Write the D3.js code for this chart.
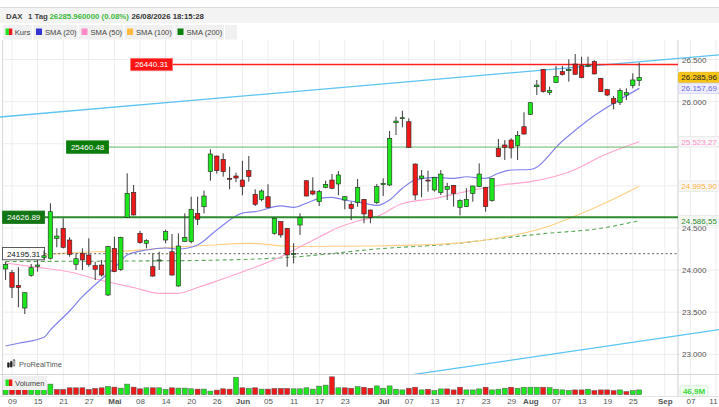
<!DOCTYPE html>
<html>
<head>
<meta charset="utf-8">
<script src="https://cdn.jsdelivr.net/npm/d3@7"></script>
<style>
  html, body { margin: 0; padding: 0; background: #fff; }
  svg { display: block; font-family: "Liberation Sans", Arial, sans-serif; }
</style>
</head>
<body>
<div id="chart"></div>
<script>
// trading days per month (2026), the last 12 are future days on the axis
const aprDays = [8, 9, 10, 13, 14, 15, 16, 17, 20, 21, 22, 23, 24, 27, 28, 29, 30];
const mayDays = [4, 5, 6, 7, 8, 11, 12, 13, 14, 15, 18, 19, 20, 21, 22, 25, 26, 27, 28, 29];
const junDays = [1, 2, 3, 4, 5, 8, 9, 10, 11, 12, 15, 16, 17, 18, 19, 22, 23, 24, 25, 26, 29, 30];
const julDays = [1, 2, 3, 6, 7, 8, 9, 10, 13, 14, 15, 16, 17, 20, 21, 22, 23, 24, 27, 28, 29, 30, 31];
const augDays = [3, 4, 5, 6, 7, 10, 11, 12, 13, 14, 17, 18, 19, 20, 21, 24, 25, 26, 27, 28, 31];
const sepDays = [1, 2, 3, 4, 7, 8, 9, 10, 11];

const open = [24013, 23969, 23819, 23550, 23938, 24045, 24150, 24140, 24377, 24496,
  24357, 24068, 24199, 24179, 24052, 24060, 23704, 24258, 24009, 24626,
  24923, 24436, 24318, 24040, 24115, 24357, 24218, 23811, 24341, 24337,
  24674, 24752, 25168, 25354, 25315, 25090, 25117, 25069, 25180, 24900,
  24840, 24871, 24436, 24575, 24496, 24190, 24535, 25061, 24939, 24812,
  24983, 25069, 25022, 24832, 24781, 24805, 24840, 24713, 24800, 25014,
  25010, 25749, 25797, 25761, 25259, 25089, 25069, 24951, 24919, 24959,
  25006, 24745, 24753, 24911, 24990, 24983, 24824, 25445, 25485, 25544,
  25477, 25702, 25849, 26177, 26383, 26106, 26225, 26356, 26367, 26446,
  26426, 26420, 26474, 26277, 26142, 26039, 25992, 26078, 26193, 26249];
const high = [24099, 24001, 24033, 23735, 24072, 24120, 24230, 24793, 24496, 24615,
  24389, 24199, 24258, 24377, 24099, 24120, 24285, 24396, 24395, 25149,
  25010, 24464, 24365, 24199, 24218, 24480, 24428, 24436, 24674, 24871,
  24871, 24943, 25434, 25360, 25386, 25227, 25156, 25298, 25354, 24959,
  24959, 25018, 24620, 24580, 24500, 24318, 24674, 25065, 25101, 24951,
  25061, 25140, 25176, 24880, 24812, 25081, 24845, 24718, 25022, 25089,
  25651, 25821, 25892, 25802, 25265, 25188, 25180, 25105, 25188, 25037,
  25010, 24840, 24971, 25002, 25267, 24988, 25093, 25556, 25544, 25564,
  25651, 25873, 25992, 26257, 26388, 26177, 26423, 26423, 26502, 26565,
  26533, 26533, 26490, 26282, 26150, 26066, 26158, 26158, 26336, 26462];
const low = [23882, 23668, 23558, 23478, 23921, 23981, 24130, 24125, 24270, 24258,
  24159, 24001, 24001, 24040, 23882, 23921, 23692, 23975, 23990, 24620,
  24648, 24313, 24258, 23921, 24001, 24318, 23935, 23803, 24337, 24318,
  24535, 24674, 25061, 25145, 25109, 24959, 25045, 24888, 25050, 24761,
  24817, 24740, 24420, 24384, 24040, 24080, 24417, 24875, 24888, 24761,
  24971, 24959, 24888, 24721, 24594, 24753, 24555, 24555, 24784, 24879,
  24998, 25603, 25695, 25450, 24832, 24864, 24931, 24931, 24891, 24832,
  24753, 24650, 24748, 24812, 24985, 24693, 24812, 25340, 25307, 25327,
  25307, 25610, 25841, 26078, 26106, 26078, 26220, 26310, 26237, 26320,
  26277, 26410, 26325, 26115, 26066, 25908, 25960, 26019, 26158, 26186];
const close = [24068, 23795, 23791, 23731, 24028, 24060, 24170, 24693, 24404, 24270,
  24187, 24135, 24120, 24068, 24009, 23941, 24278, 23981, 24389, 24911,
  24654, 24325, 24349, 23929, 24120, 24456, 23941, 24286, 24389, 24721,
  24603, 24879, 25378, 25180, 25168, 25085, 25093, 24990, 25109, 24781,
  24939, 24745, 24615, 24417, 24179, 24195, 24622, 24879, 24903, 24931,
  25018, 24971, 25129, 24871, 24729, 24983, 24666, 24626, 24990, 25030,
  25564, 25769, 25809, 25457, 24891, 25117, 25057, 25101, 25140, 24990,
  24911, 24824, 24840, 24998, 25140, 24753, 25089, 25346, 25457, 25449,
  25600, 25615, 25987, 26197, 26118, 26130, 26300, 26320, 26383, 26324,
  26284, 26432, 26328, 26118, 26078, 25980, 26130, 26106, 26257, 26285.96];
// volume in millions
const volume = [52, 52, 52, 52, 52, 52, 52, 105, 52, 52,
  68, 68, 68, 52, 62, 68, 82, 75, 65, 105,
  75, 58, 68, 68, 68, 52, 68, 65, 65, 58,
  55, 55, 35, 45, 58, 55, 172, 68, 62, 68,
  55, 55, 62, 62, 62, 58, 58, 68, 55, 85,
  95, 178, 68, 68, 64, 80, 74, 64, 87, 64,
  87, 54, 47, 64, 74, 47, 54, 40, 57, 57,
  47, 74, 47, 47, 57, 74, 47, 54, 64, 74,
  64, 74, 74, 74, 74, 70, 54, 47, 40, 47,
  47, 54, 40, 47, 47, 40, 47, 30, 40, 46.9];

// moving averages at a few days each
const sma20 = [["04-08", 23099], ["04-10", 23131], ["04-16", 23202], ["04-17", 23289], ["04-22", 23514],
  ["04-24", 23684], ["04-29", 23894], ["05-04", 24025], ["05-06", 24179], ["05-11", 24238],
  ["05-14", 24262], ["05-18", 24250], ["05-21", 24298], ["05-26", 24476], ["06-01", 24677],
  ["06-03", 24693], ["06-09", 24761], ["06-11", 24745], ["06-15", 24793], ["06-17", 24852],
  ["06-19", 24864], ["06-23", 24832], ["06-26", 24793], ["06-30", 24767], ["07-02", 24832],
  ["07-06", 24971], ["07-08", 25069], ["07-13", 25101], ["07-16", 25089], ["07-20", 25108],
  ["07-23", 25089], ["07-27", 25149], ["07-29", 25188], ["08-03", 25194], ["08-10", 25532],
  ["08-17", 25835], ["08-20", 25980], ["08-26", 26157.69]];
const sma50 = [["04-08", 24084], ["04-15", 24033], ["04-22", 23977], ["04-29", 23876], ["05-07", 23793],
  ["05-13", 23724], ["05-18", 23724], ["05-21", 23793], ["05-26", 23870], ["06-02", 24007],
  ["06-09", 24159], ["06-12", 24277], ["06-17", 24393], ["06-22", 24505], ["06-25", 24583],
  ["06-30", 24636], ["07-06", 24790], ["07-13", 24850], ["07-20", 24933], ["07-28", 25016],
  ["08-03", 25049], ["08-12", 25194], ["08-18", 25348], ["08-26", 25523.27]];
const sma100 = [["04-16", 24179], ["04-22", 24203], ["04-29", 24220], ["05-07", 24232], ["05-18", 24277],
  ["05-21", 24286], ["06-02", 24318], ["06-11", 24280], ["06-30", 24286], ["07-09", 24298],
  ["07-17", 24322], ["07-27", 24381], ["08-05", 24499], ["08-12", 24642], ["08-18", 24773],
  ["08-26", 24995.90]];
const sma200 = [["04-08", 24102], ["05-07", 24108], ["05-21", 24114], ["06-11", 24155], ["06-30", 24250],
  ["07-17", 24320], ["07-27", 24375], ["08-05", 24432], ["08-18", 24496], ["08-26", 24586.55]];

// drawn objects
const trendUpper = [["04-08", 25823], ["09-11", 26552]];
const trendLower = [["07-08", 22763], ["09-11", 23287]];
const levelValues = [26440.31, 25460.48, 24626.89, 24195.31];
const levelAnchors = ["05-07", "04-22", "04-08", "04-08"];

const priceTicks = [23000, 23500, 24000, 24500, 25000, 25500, 26000, 26500];
const tickDates = ["04-09", "04-15", "04-21", "04-27", "05-04", "05-08", "05-14", "05-20", "05-26",
  "06-01", "06-05", "06-11", "06-17", "06-23", "07-01", "07-07", "07-13", "07-17", "07-23", "07-29",
  "08-03", "08-07", "08-13", "08-19", "08-25", "09-01", "09-07", "09-11"];
const tickLabels = ["09", "15", "21", "27", "Mai", "08", "14", "20", "26",
  "Jun", "05", "11", "17", "23", "Jul", "07", "13", "17", "23", "29",
  "Aug", "07", "13", "19", "25", "Sep", "07", "11"];
const monthLabels = ["Mai", "Jun", "Jul", "Aug", "Sep"];

const pad = n => String(n).padStart(2, "0");
const days = [["04", aprDays], ["05", mayDays], ["06", junDays], ["07", julDays], ["08", augDays], ["09", sepDays]]
  .flatMap(([m, list]) => list.map(d => `${m}-${pad(d)}`));
const dayIndex = new Map(days.map((d, i) => [d, i]));
const lastIndex = dayIndex.get("09-11");

const W = 719, H = 407;
const plotTop = 40, plotBottom = 374, axisX = 678;

const x = d3.scaleLinear().domain([0, lastIndex]).range([5.6, 5.6 + lastIndex * 6.4]);
const y = d3.scaleLinear().domain([23000, 26500]).range([354.3, 59.5]);
const yVol = d3.scaleLinear().domain([0, 180]).range([394.6, 376.6]);

const de = d3.formatLocale({decimal: ",", thousands: ".", grouping: [3], currency: ["", "€"]});
const fmtTick = de.format(",d");
const fmtVal = de.format(",.2f");

const upColor = "#1ee61e", downColor = "#ee1a1a";
const last = close.length - 1;

const tags = [
  {value: close[last], fill: "#f6c417", stroke: "#e4b100", text: "#222"},
  {value: sma20[sma20.length - 1][1], fill: "#ededfb", stroke: "#cfcff0", text: "#6c6ce2"},
  {value: sma50[sma50.length - 1][1], fill: "#f8f8f8", stroke: "#e2e2e2", text: "#ff8ec8"},
  {value: sma100[sma100.length - 1][1], fill: "#f8f8f8", stroke: "#e2e2e2", text: "#ffb33e"},
  {value: sma200[sma200.length - 1][1], fill: "#f5f8f5", stroke: "#dde6dd", text: "#2e8b2e"}
];

const svg = d3.select("#chart").append("svg")
  .attr("width", W).attr("height", H)
  .attr("viewBox", `0 0 ${W} ${H}`);

svg.append("defs").append("clipPath").attr("id", "plot-clip")
  .append("rect").attr("x", 0).attr("y", plotTop).attr("width", W).attr("height", plotBottom - plotTop);

// header
svg.append("rect").attr("x", 0).attr("y", 7).attr("width", W).attr("height", 16).attr("fill", "#f3f3f3");
svg.append("line").attr("x1", 0).attr("x2", W).attr("y1", 7.5).attr("y2", 7.5).attr("stroke", "#dcdcdc");
const header = svg.append("g").attr("font-size", 7.8).attr("font-weight", "bold");
header.append("text").attr("x", 6).attr("y", 19.3).attr("fill", "#444").text("DAX");
header.append("text").attr("x", 28).attr("y", 19.3).attr("fill", "#444").text("1 Tag");
header.append("text").attr("x", 49.5).attr("y", 19.3).attr("fill", "#3cb83c").text("26285.960000 (0.08%)");
header.append("text").attr("x", 131.5).attr("y", 19.3).attr("fill", "#333").text("26/08/2026 18:15:28");

// legend row
const legendItems = [
  {label: "Kurs", x: 3, w: 29, color: null},
  {label: "SMA (20)", x: 33.5, w: 44, color: "#3535d0"},
  {label: "SMA (50)", x: 79, w: 44, color: "#ff8ac6"},
  {label: "SMA (100)", x: 124.5, w: 49, color: "#ffbb40"},
  {label: "SMA (200)", x: 175, w: 49, color: "#0a800a"}
];
svg.append("rect").attr("x", 225).attr("y", 25).attr("width", 12).attr("height", 14.5).attr("fill", "#f0f0f0");
const legend = svg.append("g").selectAll("g").data(legendItems).join("g")
  .attr("transform", d => `translate(${d.x},25)`);
legend.append("rect").attr("width", d => d.w).attr("height", 14.5).attr("fill", "#f0f0f0");
legend.filter(d => d.color).append("rect")
  .attr("x", 2.5).attr("y", 3.5).attr("width", 6).attr("height", 6.5).attr("fill", d => d.color);
legend.filter(d => !d.color).call(g => {
  g.append("rect").attr("x", 2.5).attr("y", 3.5).attr("width", 3.4).attr("height", 6.5).attr("fill", upColor);
  g.append("rect").attr("x", 5.9).attr("y", 3.5).attr("width", 3.4).attr("height", 6.5).attr("fill", downColor);
});
legend.append("text").attr("x", d => d.color ? 11.5 : 11.8).attr("y", 10.2)
  .attr("font-size", 7.6).attr("fill", "#444").text(d => d.label);

// grid
const grid = svg.append("g");
grid.selectAll("line.v").data(tickDates).join("line")
  .attr("x1", d => x(dayIndex.get(d))).attr("x2", d => x(dayIndex.get(d)))
  .attr("y1", plotTop).attr("y2", 397).attr("stroke", "#ededed");
grid.selectAll("line.h").data(priceTicks).join("line")
  .attr("x1", 2).attr("x2", W).attr("y1", d => y(d)).attr("y2", d => y(d)).attr("stroke", "#ededed");
grid.append("line").attr("x1", 2.5).attr("x2", 2.5).attr("y1", plotTop).attr("y2", 397).attr("stroke", "#dadada");
grid.append("line").attr("x1", axisX).attr("x2", axisX).attr("y1", plotTop).attr("y2", 397).attr("stroke", "#cfcfcf");
grid.append("line").attr("x1", 0).attr("x2", W).attr("y1", plotBottom + 0.5).attr("y2", plotBottom + 0.5).attr("stroke", "#d6d6d6");
grid.append("line").attr("x1", 0).attr("x2", W).attr("y1", 396.5).attr("y2", 396.5).attr("stroke", "#e4e4e4");

// price axis: labels hidden behind a value tag are left out, as in the platform
const hiddenTick = v => tags.some(t => Math.abs(y(t.value) - y(v)) < 6);
svg.append("g").attr("transform", `translate(${axisX},0)`)
  .call(d3.axisRight(y).tickValues(priceTicks.filter(v => !hiddenTick(v)))
    .tickFormat(fmtTick).tickSize(0).tickPadding(4))
  .call(g => g.select(".domain").remove())
  .call(g => g.selectAll("text").attr("font-size", 8).attr("fill", "#555")
    .attr("font-family", "Liberation Sans, Arial, sans-serif"));

// date axis
svg.append("g").attr("transform", "translate(0,396)")
  .call(d3.axisBottom(x).tickValues(tickDates.map(d => dayIndex.get(d)))
    .tickFormat((d, i) => tickLabels[i]).tickSize(0).tickPadding(2.5))
  .call(g => g.select(".domain").remove())
  .call(g => g.selectAll("text").attr("font-size", 8).attr("fill", "#555")
    .attr("font-family", "Liberation Sans, Arial, sans-serif")
    .attr("font-weight", (d, i) => monthLabels.includes(tickLabels[i]) ? "bold" : null)
    .attr("dx", (d, i) => i === tickLabels.length - 1 ? -3 : null));

const plot = svg.append("g").attr("clip-path", "url(#plot-clip)");

// trendlines, stretched over the whole width
function stretched(points) {
  const [a, b] = points.map(([d, v]) => [x(dayIndex.get(d)), y(v)]);
  const slope = (b[1] - a[1]) / (b[0] - a[0]);
  return [[0, a[1] - slope * a[0]], [W, a[1] + slope * (W - a[0])]];
}
[trendUpper, trendLower].forEach(t => {
  plot.append("path").attr("d", d3.line()(stretched(t)))
    .attr("fill", "none").attr("stroke", "#5cc4f2").attr("stroke-width", 1.3);
});

// moving averages
const smaLine = d3.line()
  .x(d => x(dayIndex.get(d[0])))
  .y(d => y(d[1]))
  .curve(d3.curveMonotoneX);
plot.append("path").datum(sma200).attr("d", smaLine).attr("fill", "none")
  .attr("stroke", "#58a858").attr("stroke-width", 1.1).attr("stroke-dasharray", "4,3");
plot.append("path").datum(sma100).attr("d", smaLine).attr("fill", "none")
  .attr("stroke", "#ffcf85").attr("stroke-width", 1.2);
plot.append("path").datum(sma50).attr("d", smaLine).attr("fill", "none")
  .attr("stroke", "#ffa6cf").attr("stroke-width", 1.2);
plot.append("path").datum(sma20).attr("d", smaLine).attr("fill", "none")
  .attr("stroke", "#8181ec").attr("stroke-width", 1.2);

// horizontal levels
const levelStyles = [
  {fill: "#ff1414", text: "#fff", stroke: "#ff2020", width: 1.6, dash: null, border: "#ff7070"},
  {fill: "#0b7d0b", text: "#fff", stroke: "#62b862", width: 1, dash: null, border: "#0b7d0b"},
  {fill: "#147514", text: "#fff", stroke: "#2e8a2e", width: 2, dash: null, border: "#147514"},
  {fill: "#fff", text: "#111", stroke: "#7a7a7a", width: 1.2, dash: "2,2.5", border: "#333"}
];
const levels = plot.append("g").selectAll("g").data(levelValues).join("g");
levels.append("line")
  .attr("x1", (d, i) => x(dayIndex.get(levelAnchors[i])) - 3 + 42)
  .attr("x2", axisX)
  .attr("y1", d => y(d)).attr("y2", d => y(d))
  .attr("stroke", (d, i) => levelStyles[i].stroke)
  .attr("stroke-width", (d, i) => levelStyles[i].width)
  .attr("stroke-dasharray", (d, i) => levelStyles[i].dash);

// candles
const idx = d3.range(close.length);
const candles = plot.append("g").selectAll("g").data(idx).join("g");
candles.append("line")
  .attr("x1", i => x(i)).attr("x2", i => x(i))
  .attr("y1", i => y(high[i])).attr("y2", i => y(low[i]))
  .attr("stroke", "#3a3a3a").attr("stroke-width", 1);
candles.append("rect")
  .attr("x", i => x(i) - 2.2).attr("width", 4.4)
  .attr("y", i => y(Math.max(open[i], close[i])))
  .attr("height", i => Math.max(1, Math.abs(y(open[i]) - y(close[i]))))
  .attr("fill", i => close[i] >= open[i] ? upColor : downColor)
  .attr("stroke", "#262626").attr("stroke-width", 0.6);

// level labels above the candles
levels.append("rect")
  .attr("x", (d, i) => x(dayIndex.get(levelAnchors[i])) - 3)
  .attr("y", d => y(d) - 6.2).attr("width", 42).attr("height", 12.4)
  .attr("fill", (d, i) => levelStyles[i].fill)
  .attr("stroke", (d, i) => levelStyles[i].border).attr("stroke-width", 0.8);
levels.append("text")
  .attr("x", (d, i) => x(dayIndex.get(levelAnchors[i])) - 3 + 21)
  .attr("y", d => y(d)).attr("dy", "0.36em").attr("text-anchor", "middle")
  .attr("font-size", 8).attr("fill", (d, i) => levelStyles[i].text)
  .text(d => d.toFixed(2));

// volume panel
svg.append("g").selectAll("rect").data(idx).join("rect")
  .attr("x", i => x(i) - 2.5).attr("width", 5)
  .attr("y", i => yVol(volume[i])).attr("height", i => yVol(0) - yVol(volume[i]))
  .attr("fill", i => (i === 0 ? close[i] >= open[i] : close[i] >= close[i - 1]) ? upColor : downColor)
  .attr("stroke", "#555").attr("stroke-width", 0.5);
const volLegend = svg.append("g").attr("transform", "translate(3,376)");
volLegend.append("rect").attr("width", 44).attr("height", 14).attr("fill", "#f0f0f0");
volLegend.append("rect").attr("x", 2.5).attr("y", 3.5).attr("width", 3.4).attr("height", 6.5).attr("fill", upColor);
volLegend.append("rect").attr("x", 5.9).attr("y", 3.5).attr("width", 3.4).attr("height", 6.5).attr("fill", downColor);
volLegend.append("text").attr("x", 12).attr("y", 10).attr("font-size", 7.6).attr("fill", "#444").text("Volumen");

// watermark
const brand = svg.append("g").attr("transform", "translate(7,360)");
[[0.5, 3, 4], [3.3, 1.8, 5], [6.1, 0, 5.5]].forEach(([bx, by, bh], k) => {
  brand.append("line").attr("x1", bx + 0.9).attr("x2", bx + 0.9).attr("y1", by - 1).attr("y2", by + bh + 1)
    .attr("stroke", "#333").attr("stroke-width", 0.6);
  brand.append("rect").attr("x", bx).attr("y", by).attr("width", 1.8).attr("height", bh)
    .attr("fill", k === 2 ? "#fff" : "#222").attr("stroke", "#222").attr("stroke-width", 0.5);
});
brand.append("text").attr("x", 12).attr("y", 7.2).attr("font-size", 7.4).attr("fill", "#555").text("ProRealTime");

// right-axis value tags
const tag = svg.append("g").selectAll("g").data(tags).join("g")
  .attr("transform", d => `translate(${axisX + 0.5},${y(d.value)})`);
tag.append("rect").attr("x", 0).attr("y", -5.2).attr("width", 44).attr("height", 10.4).attr("rx", 1.5)
  .attr("fill", d => d.fill).attr("stroke", d => d.stroke).attr("stroke-width", 0.7);
tag.append("text").attr("x", 2.8).attr("dy", "0.36em").attr("font-size", 8)
  .attr("fill", d => d.text).text(d => fmtVal(d.value));

const volTag = svg.append("g").attr("transform", `translate(${axisX + 2},${yVol(volume[last]) + 1})`);
volTag.append("rect").attr("x", 0).attr("y", -5.2).attr("width", 28).attr("height", 10.4).attr("rx", 1.5)
  .attr("fill", "#f1fdf1").attr("stroke", "#cfe6cf").attr("stroke-width", 0.7);
volTag.append("text").attr("x", 14).attr("dy", "0.36em").attr("text-anchor", "middle")
  .attr("font-size", 8).attr("font-weight", "bold").attr("fill", "#3bd83b")
  .text(de.format(",.1f")(volume[last]) + "M");
</script>
</body>
</html>
